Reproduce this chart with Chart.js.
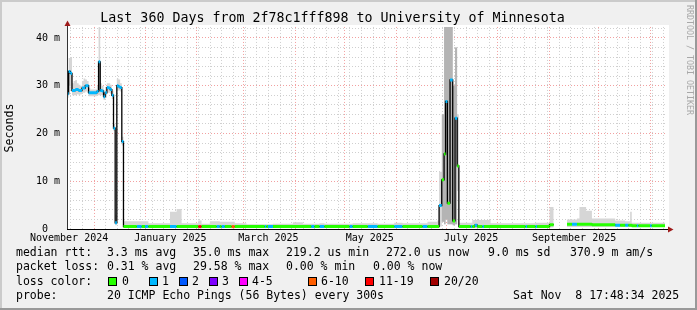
<!DOCTYPE html>
<html>
<head>
<meta charset="utf-8">
<script src="https://cdn.jsdelivr.net/npm/chart.js@4.4.1/dist/chart.umd.min.js"></script>
<style>
  html, body { margin: 0; padding: 0; background: #f0f0f0; }
  canvas { display: block; }
</style>
</head>
<body>
<canvas id="chart" width="697" height="310"></canvas>
<script>
const MONO = "'DejaVu Sans Mono', monospace";

// x = days after the start of the window (Nov 14 2024 17:48), each sample holds until the next one
const days = [
  0, 1, 2, 3, 4, 5, 6, 7, 8, 9, 10, 11, 12, 13, 14, 15, 16, 17, 18, 19, 20, 21, 22, 23, 24, 25, 26, 27, 28, 29, 30, 31, 32, 33,
  34, 42, 45, 47, 49, 62, 66, 69, 79, 81, 86, 90, 92, 93, 95, 99, 101, 108, 119, 120, 121, 124, 136, 142, 147, 149, 152, 155, 170, 172, 181, 187, 197, 202, 214, 217,
  223, 224, 225.6, 227, 227.9, 229, 230.6, 232.2, 233.6, 234.9, 235.9,
  243, 244, 245.5, 247, 250, 251, 255, 276, 277, 282, 283, 290.5, 293,
  301, 304, 307, 308.5, 312.5, 316, 330, 333, 336, 338, 339, 340, 343, 344, 351, 352
];
const endDay = 360;

// median rtt in ms
const median = [
  28.3, 33.0, 32.6, 29.0, 29.0, 29.2, 29.2, 29.0, 29.0, 29.5, 29.5, 30.0, 30.0, 28.5, 28.5, 28.5, 28.5, 28.5, 28.8, 35.0,
  29.0, 28.9, 27.7, 28.5, 29.6, 29.5, 29.2, 28.0, 21.1, 1.3, 30.0, 29.8, 29.6, 18.3,
  0.5, 0.5, 0.5, 0.5, 0.5, 0.5, 0.5, 0.5, 0.5, 0.5, 0.5, 0.5, 0.5, 0.5, 0.5, 0.5, 0.5, 0.5,
  0.5, 0.5, 0.5, 0.5, 0.5, 0.5, 0.5, 0.5, 0.5, 0.5, 0.5, 0.5, 0.5, 0.5, 0.5, 0.5, 0.5, 0.5,
  0.5, 4.9, 10.3, 15.7, 26.7, 5.4, 31.2, 1.7, 23.2, 13.2, 0.5,
  0.5, 0.5, 0.8, 0.5, 0.5, 0.5, 0.5, 0.5, 0.5, 0.5, 0.5, 0.9, null,
  1.0, 1.0, 1.0, 1.0, 1.0, 0.9, 0.8, 0.8, 0.8, 0.8, 0.8, 0.7, 0.7, 0.7, 0.7, 0.7
];

// smoke (spread of the pings) in ms
const smokeLo = [
  27.5, 30.0, 29.0, 28.0, 28.0, 28.0, 28.2, 28.0, 28.2, 28.5, 28.5, 28.8, 28.5, 27.8, 27.8, 27.8, 27.8, 27.8, 28.0, 28.0,
  28.0, 28.0, 27.0, 27.5, 28.5, 28.5, 28.3, 27.2, 20.5, 0.8, 29.0, 29.0, 28.8, 17.5,
  0.2, 0.2, 0.2, 0.2, 0.2, 0.2, 0.2, 0.2, 0.2, 0.2, 0.2, 0.2, 0.2, 0.2, 0.2, 0.2, 0.2, 0.2,
  0.2, 0.2, 0.2, 0.2, 0.2, 0.2, 0.2, 0.2, 0.2, 0.2, 0.2, 0.2, 0.2, 0.2, 0.2, 0.2, 0.2, 0.2,
  0.2, 0.5, 1.5, 1.0, 2.0, 1.0, 1.0, 0.8, 1.0, 8.0, 0.2,
  0.2, 0.2, 0.2, 0.2, 0.2, 0.2, 0.2, 0.2, 0.2, 0.2, 0.2, 0.3, null,
  0.4, 0.4, 0.4, 0.4, 0.4, 0.4, 0.4, 0.4, 0.4, 0.4, 0.4, 0.4, 0.4, 0.4, 0.4, 0.4
];
const smokeHi = [
  29.5, 35.8, 36.0, 30.5, 31.0, 31.2, 30.5, 30.2, 30.0, 31.0, 31.5, 31.3, 31.0, 29.5, 29.2, 29.2, 29.2, 29.2, 30.0, 42.5,
  30.5, 30.0, 28.8, 29.5, 30.5, 30.5, 30.2, 29.0, 22.0, 3.0, 31.5, 31.3, 30.5, 19.3,
  1.6, 1.6, 1.6, 1.6, 1.2, 3.6, 4.2, 1.2, 1.8, 1.1, 1.6, 1.6, 1.5, 1.5, 1.5, 1.5, 1.2, 1.0,
  1.0, 1.0, 1.0, 1.1, 1.4, 1.1, 1.1, 1.1, 1.2, 1.1, 1.1, 1.2, 1.2, 1.1, 1.3, 1.2, 1.2, 1.5,
  1.8, 12, 24, 42.5, 42.5, 42.5, 42.5, 30, 38, 24, 1.3,
  1.3, 1.9, 1.9, 1.9, 1.9, 1.9, 1.2, 1.2, 1.2, 1.3, 1.3, 4.6, null,
  2.0, 2.0, 2.2, 4.6, 3.8, 2.2, 1.8, 1.8, 1.6, 1.6, 3.6, 1.3, 1.3, 1.3, 1.3, 1.3
];

// packet loss bucket, index into lossLabels
const loss = [
  1, 1, 1, 1, 1, 1, 1, 1, 1, 1, 1, 1, 1, 1, 1, 1, 1, 1, 1, 1, 1, 1, 1, 1, 1, 1, 1, 1, 1, 1, 1, 1, 1, 1,
  0, 1, 0, 1, 0, 1, 0, 0, 6, 0, 0, 1, 0, 1, 0, 5, 0, 0, 1, 0, 1, 0, 0, 0, 1, 0, 1, 0, 1, 0, 1, 0, 1, 0, 1, 0,
  0, 1, 0, 0, 1, 0, 1, 0, 1, 0, 0,
  1, 0, 1, 0, 1, 0, 0, 1, 0, 1, 0, 0, null,
  0, 1, 0, 0, 0, 0, 1, 0, 1, 0, 0, 0, 1, 0, 1, 0
];

const lossLabels = ['0', '1', '2', '3', '4-5', '6-10', '11-19', '20/20'];
const lossColors = ['#26ff00', '#00b8ff', '#0059ff', '#7e00ff', '#ff00ff', '#ff5e00', '#ff0000', '#a10000'];

const monthStarts = [16.26, 47.26, 78.26, 106.26, 137.26, 167.26, 198.26, 228.26, 259.26, 290.26, 320.26, 351.26];
const labelDays = [1.26, 62.26, 121.26, 182.26, 243.26, 305.26];
const monthLabels = ['November 2024', 'January 2025', 'March 2025', 'May 2025', 'July 2025', 'September 2025'];
const yTicks = [0, 2, 4, 6, 8, 10, 12, 14, 16, 18, 20, 22, 24, 26, 28, 30, 32, 34, 36, 38, 40, 42];
const yMax = 42.3;

const MAJOR = '#f2a0a0';
const MINOR = '#cfcfcf';

// rrdtool style steps: every sample is a flat run up to the next sample
function steps(values) {
  const pts = [];
  for (let i = 0; i < days.length; i++) {
    const next = i + 1 < days.length ? days[i + 1] : endDay;
    const v = values[i];
    if (v === null || v === undefined) { pts.push({ x: days[i], y: null }); continue; }
    pts.push({ x: days[i], y: v }, { x: next, y: v });
  }
  return pts;
}

function lossRuns(k) {
  const pts = [];
  for (let i = 0; i < days.length; i++) {
    const next = i + 1 < days.length ? days[i + 1] : endDay;
    if (loss[i] === k && median[i] !== null) {
      pts.push({ x: days[i], y: median[i] }, { x: next, y: median[i] });
    }
    pts.push({ x: next, y: null });
  }
  return pts;
}

const wide = i => smokeHi[i] !== null && smokeHi[i] - smokeLo[i] > 20;

const datasets = [
  { data: steps(smokeLo), borderColor: 'rgba(0,0,0,0)', borderWidth: 1, pointRadius: 0, fill: false, order: 4 },
  { data: steps(smokeHi), borderColor: 'rgba(0,0,0,0)', borderWidth: 1, pointRadius: 0, fill: '-1', backgroundColor: '#d6d6d6', order: 4 },
  { data: steps(smokeLo.map((v, i) => wide(i) ? v : null)), borderColor: 'rgba(0,0,0,0)', borderWidth: 1, pointRadius: 0, fill: false, order: 3 },
  { data: steps(smokeHi.map((v, i) => wide(i) ? v : null)), borderColor: 'rgba(0,0,0,0)', borderWidth: 1, pointRadius: 0, fill: '-1', backgroundColor: '#b4b4b4', order: 3 },
  { data: steps(median), borderColor: '#000', borderWidth: 1.3, pointRadius: 0, fill: false, order: 2 }
];
lossColors.forEach((c, k) => {
  if (!loss.includes(k)) return;
  datasets.push({ data: lossRuns(k), borderColor: c, borderWidth: 3, borderCapStyle: 'butt', pointRadius: 0, fill: false, order: 1 });
});

const xGridTicks = monthStarts.map(v => ({ value: v, major: true }));
for (let d = 2.26; d < endDay; d += 7) {
  if (!monthStarts.some(m => Math.abs(m - d) < 0.5)) xGridTicks.push({ value: d });
}
xGridTicks.sort((a, b) => a.value - b.value);

const legendLines = [
  [[16, 'median rtt:'], [107, '3.3 ms avg'], [193, '35.0 ms max'], [286, '219.2 us min'], [386, '272.0 us now'], [488, '9.0 ms sd'], [570, '370.9 m am/s']],
  [[16, 'packet loss:'], [107, '0.31 % avg'], [193, '29.58 % max'], [286, '0.00 % min'], [373, '0.00 % now']],
  [[16, 'loss color:']],
  [[16, 'probe:'], [107, '20 ICMP Echo Pings (56 Bytes) every 300s'], [513, 'Sat Nov  8 17:48:34 2025']]
];
const legendY = [253, 267.5, 282, 296];
const boxX = [108, 149, 179, 209, 239, 308, 365, 430];
const boxTextX = [122, 162, 192, 222, 252, 321, 379, 444];

const rrdFrame = {
  id: 'rrdFrame',
  beforeDraw(chart) {
    const { ctx, width, height, chartArea: a } = chart;
    ctx.save();
    ctx.fillStyle = '#f0f0f0';
    ctx.fillRect(0, 0, width, height);
    ctx.fillStyle = '#ffffff';
    ctx.fillRect(a.left, a.top - 2, a.right - a.left + 4, a.bottom - a.top + 2);
    ctx.fillStyle = '#cbcbcb';
    ctx.fillRect(0, 0, width, 2);
    ctx.fillRect(0, 0, 2, height);
    ctx.fillStyle = '#999999';
    ctx.fillRect(0, height - 2, width, 2);
    ctx.fillRect(width - 2, 0, 2, height);
    ctx.restore();
  },
  afterDraw(chart) {
    const { ctx, chartArea: a } = chart;
    ctx.save();
    // axes
    ctx.strokeStyle = '#000';
    ctx.lineWidth = 1;
    ctx.beginPath();
    ctx.moveTo(a.left, a.bottom + 0.5);
    ctx.lineTo(a.right + 4, a.bottom + 0.5);
    ctx.stroke();
    ctx.strokeStyle = '#333';
    ctx.beginPath();
    ctx.moveTo(a.left + 0.5, a.bottom);
    ctx.lineTo(a.left + 0.5, a.top - 2);
    ctx.stroke();
    ctx.fillStyle = '#9e1a1a';
    ctx.beginPath();
    ctx.moveTo(a.left - 2.5, a.top - 1);
    ctx.lineTo(a.left + 3.5, a.top - 1);
    ctx.lineTo(a.left + 0.5, a.top - 6.5);
    ctx.closePath();
    ctx.fill();
    ctx.beginPath();
    ctx.moveTo(a.right + 3, a.bottom - 2.5);
    ctx.lineTo(a.right + 3, a.bottom + 3.5);
    ctx.lineTo(a.right + 8.5, a.bottom + 0.5);
    ctx.closePath();
    ctx.fill();

    // legend
    ctx.fillStyle = '#000';
    ctx.font = '11.5px ' + MONO;
    ctx.textBaseline = 'middle';
    ctx.textAlign = 'left';
    legendLines.forEach((line, r) => {
      line.forEach(([x, t]) => ctx.fillText(t, x, legendY[r]));
    });
    lossLabels.forEach((lbl, k) => {
      ctx.fillStyle = lossColors[k];
      ctx.fillRect(boxX[k], 277.5, 8, 8);
      ctx.strokeStyle = '#000';
      ctx.strokeRect(boxX[k] + 0.5, 277.5, 8, 8);
      ctx.fillStyle = '#000';
      ctx.fillText(lbl, boxTextX[k], legendY[2]);
    });

    // vertical credit
    ctx.translate(689, 5);
    ctx.rotate(Math.PI / 2);
    ctx.fillStyle = '#a8a8a8';
    ctx.font = '8.3px ' + MONO;
    ctx.fillText('RRDTOOL / TOBI OETIKER', 0, 0);
    ctx.restore();
  }
};

new Chart(document.getElementById('chart'), {
  type: 'line',
  data: { datasets },
  options: {
    responsive: false,
    animation: false,
    events: [],
    layout: { padding: { left: 0, right: 32, top: 0, bottom: 61 } },
    plugins: {
      legend: { display: false },
      tooltip: { enabled: false },
      title: {
        display: true,
        text: 'Last 360 Days from 2f78c1fff898 to University of Minnesota',
        color: '#000',
        font: { family: MONO, size: 13.3, weight: 'normal' },
        padding: { top: 11, bottom: 0 }
      }
    },
    scales: {
      x: {
        type: 'linear', min: 0, max: endDay, position: 'bottom', weight: 0,
        afterBuildTicks: s => { s.ticks = xGridTicks.map(t => ({ ...t })); },
        afterFit: s => { s.height = 0; },
        ticks: { display: false, autoSkip: false },
        grid: { color: c => c.tick && c.tick.major ? MAJOR : MINOR, lineWidth: 1, drawTicks: false },
        border: { display: false, dash: [1, 2] }
      },
      xl: {
        type: 'linear', min: 0, max: endDay, position: 'bottom', weight: 1,
        afterBuildTicks: s => { s.ticks = labelDays.map(v => ({ value: v })); },
        afterFit: s => { s.height = 20; },
        grid: { display: false, drawTicks: false },
        border: { display: false },
        ticks: {
          autoSkip: false, maxRotation: 0, minRotation: 0, padding: 3, color: '#000',
          font: { family: MONO, size: 10 },
          callback: (v, i) => monthLabels[i]
        }
      },
      y: {
        type: 'linear', min: 0, max: yMax, position: 'left',
        afterBuildTicks: s => { s.ticks = yTicks.map(v => ({ value: v })); },
        afterFit: s => { s.width = 67; },
        ticks: {
          padding: 7, color: '#000', autoSkip: false,
          font: { family: MONO, size: 10 },
          callback: v => v % 10 === 0 ? (v === 0 ? '0  ' : v + ' m') : ''
        },
        grid: { color: c => c.tick && c.tick.value % 10 === 0 ? MAJOR : MINOR, lineWidth: 1, drawTicks: false },
        border: { display: false, dash: [1, 2] },
        title: {
          display: true, text: 'Seconds', color: '#000',
          font: { family: MONO, size: 11.6 },
          padding: { top: 3, bottom: 0 }
        }
      }
    }
  },
  plugins: [rrdFrame]
});
</script>
</body>
</html>
